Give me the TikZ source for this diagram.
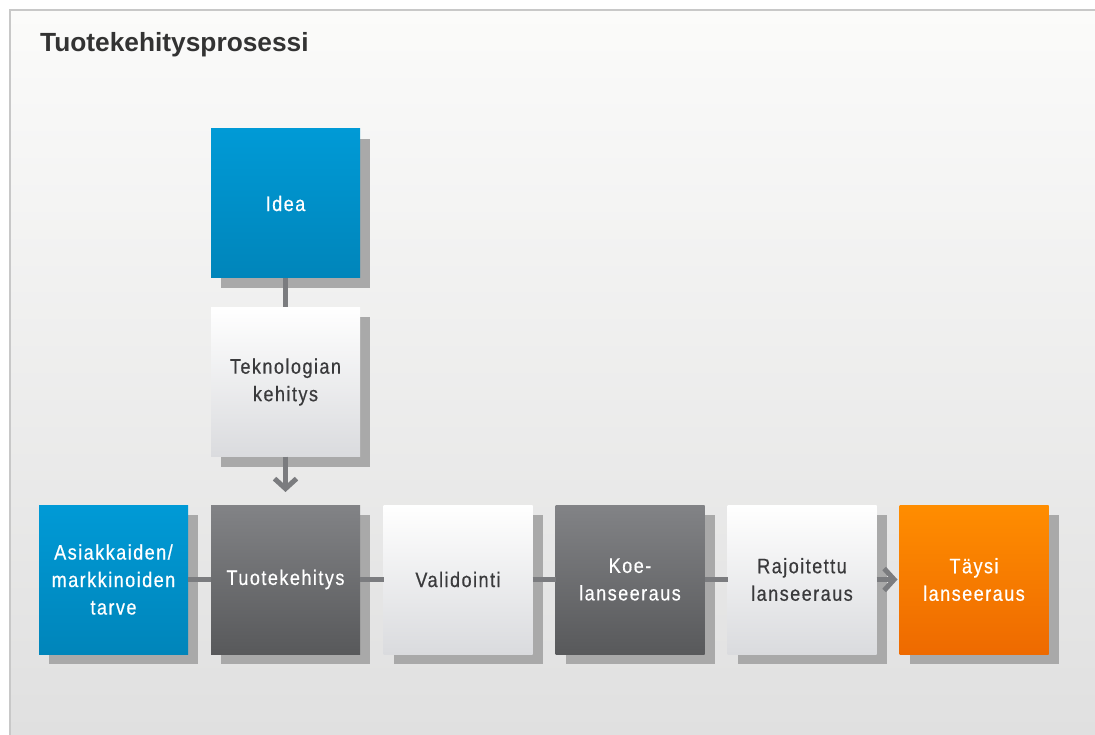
\documentclass[tikz,border=0pt]{standalone}
\usepackage{fontspec}
\setmainfont{Liberation Sans}
\newfontfamily\boxfont[FakeStretch=0.86,LetterSpace=7,FakeBold=0.5]{Liberation Sans}
\usetikzlibrary{arrows.meta,shadows}
\definecolor{bgtop}{HTML}{FBFBFA}
\definecolor{bgbot}{HTML}{E0E0E0}
\definecolor{framec}{HTML}{C8C8C8}
\definecolor{bluetop}{HTML}{009AD6}
\definecolor{bluebot}{HTML}{0085BA}
\definecolor{graytop}{HTML}{828386}
\definecolor{graybot}{HTML}{58595B}
\definecolor{whitetop}{HTML}{FFFFFF}
\definecolor{whitebot}{HTML}{DADBDE}
\definecolor{orangetop}{HTML}{FF8D00}
\definecolor{orangebot}{HTML}{EE6A00}
\definecolor{shadowc}{HTML}{A9A9A9}
\definecolor{linec}{HTML}{7B7C7F}
\definecolor{darktext}{HTML}{3A3A3C}
\definecolor{titlec}{HTML}{333333}
\begin{document}
\begin{tikzpicture}[x=1pt,y=-1pt,
  box/.style={minimum width=149pt, minimum height=149pt, inner sep=0pt, outer sep=0pt,
    align=center, font=\boxfont\fontsize{21}{27.5}\selectfont,
    drop shadow={shadow xshift=10pt, shadow yshift=-10pt, fill=shadowc, opacity=1}},
  bluebox/.style={box, top color=bluetop, bottom color=bluebot, text=white},
  graybox/.style={box, top color=graytop, bottom color=graybot, text=white},
  whitebox/.style={box, top color=whitetop, bottom color=whitebot, text=darktext},
  orangebox/.style={box, top color=orangetop, bottom color=orangebot, text=white},
  conn/.style={draw=linec, line width=5pt},
  arr/.style={-{Straight Barb[length=10pt,width=22pt]}}
]
\useasboundingbox (0,0) rectangle (1095,735);
\shade[top color=bgtop, bottom color=bgbot] (10,10) rectangle (1095,735);
\draw[framec, line width=2pt] (10,735) -- (10,10) -- (1095,10);

\node[anchor=base west, font=\bfseries\fontsize{26.3}{30}\selectfont, text=titlec, inner sep=0pt] (title) at (40,52) {Tuotekehitysprosessi};

\node[bluebox] (idea) at (285.5,203.5) {Idea};
\node[whitebox] (tek) at (285.5,382) {Teknologian\\kehitys};
\node[bluebox] (asiak) at (113.5,579.5) {Asiakkaiden/\\markkinoiden\\tarve};
\node[graybox] (tuote) at (285.5,579.5) {Tuotekehitys};
\node[whitebox] (valid) at (458,579.5) {Validointi};
\node[graybox] (koe) at (630,579.5) {Koe-\\lanseeraus};
\node[whitebox] (rajo) at (802,579.5) {Rajoitettu\\lanseeraus};
\node[orangebox] (taysi) at (974,579.5) {Täysi\\lanseeraus};

\draw[conn] (idea.south) -- (tek.north);
\draw[conn, arr] (tek.south) -- ([yshift=13pt]tuote.north);
\draw[conn] (asiak.east) -- (tuote.west);
\draw[conn] (tuote.east) -- (valid.west);
\draw[conn] (valid.east) -- (koe.west);
\draw[conn] (koe.east) -- (rajo.west);
\draw[conn, arr] (rajo.east) -- ([xshift=-2pt]taysi.west);
\end{tikzpicture}
\end{document}
